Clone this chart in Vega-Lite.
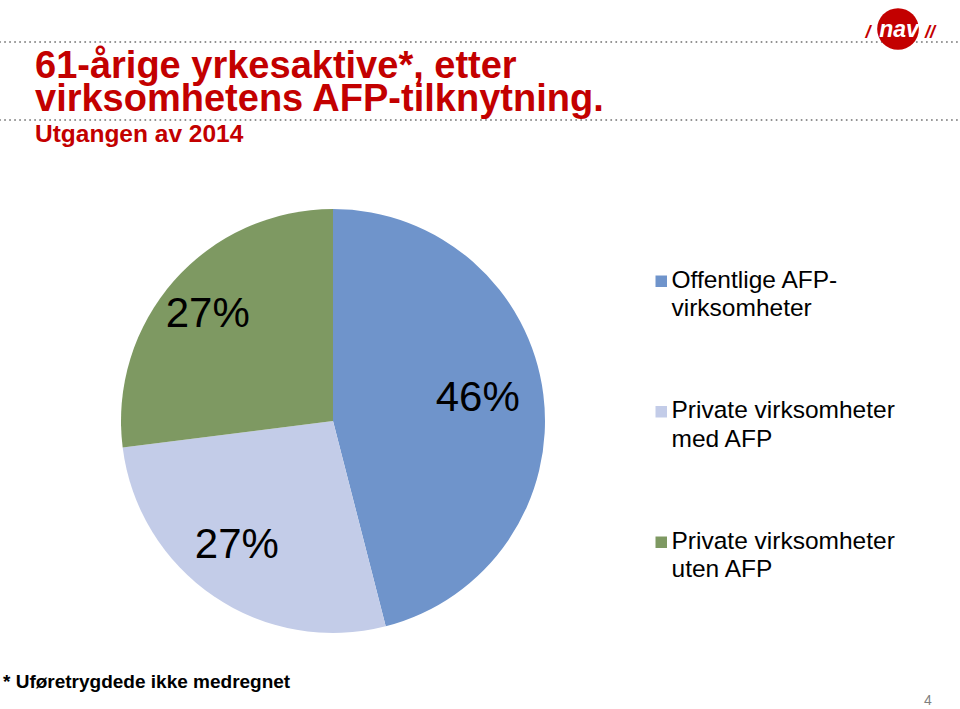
{
  "$schema": "https://vega.github.io/schema/vega-lite/v6.json",
  "width": 960,
  "height": 709,
  "autosize": "none",
  "padding": 0,
  "background": "white",
  "config": {"view": {"stroke": null}, "font": "Liberation Sans"},
  "title": {
    "text": ["61-årige yrkesaktive*, etter", "virksomhetens AFP-tilknytning."],
    "subtitle": "Utgangen av 2014",
    "anchor": "start",
    "frame": "group",
    "orient": "top",
    "offset": -146,
    "dx": 35,
    "font": "Liberation Sans",
    "fontSize": 38,
    "fontWeight": "bold",
    "color": "#C30000",
    "lineHeight": 33,
    "subtitleFont": "Liberation Sans",
    "subtitleFontSize": 24.5,
    "subtitleFontWeight": "bold",
    "subtitleColor": "#C30000",
    "subtitlePadding": 4
  },
  "data": {
    "values": [
      {"kategori": "Offentlige AFP-virksomheter", "andel": 0.46},
      {"kategori": "Private virksomheter med AFP", "andel": 0.27},
      {"kategori": "Private virksomheter uten AFP", "andel": 0.27}
    ]
  },
  "layer": [
    {
      "data": {"values": [{}]},
      "mark": {"type": "rule", "strokeDash": [0.01, 5], "strokeCap": "round", "strokeWidth": 2, "color": "#8a8a8a"},
      "encoding": {
        "x": {"datum": 0, "type": "quantitative", "scale": {"domain": [0, 960], "nice": false, "zero": false}, "axis": null},
        "x2": {"datum": 960},
        "y": {"datum": 42, "type": "quantitative", "scale": {"domain": [0, 709], "reverse": true, "nice": false, "zero": false}, "axis": null}
      }
    },
    {
      "data": {"values": [{}]},
      "mark": {"type": "rule", "strokeDash": [0.01, 5], "strokeCap": "round", "strokeWidth": 2, "color": "#8a8a8a"},
      "encoding": {
        "x": {"datum": 0, "type": "quantitative"},
        "x2": {"datum": 960},
        "y": {"datum": 120, "type": "quantitative"}
      }
    },
    {
      "mark": {"type": "arc", "outerRadius": 212},
      "encoding": {
        "theta": {"field": "andel", "type": "quantitative", "stack": true},
        "order": {"field": "kategori", "sort": "ascending"},
        "color": {
          "field": "kategori",
          "type": "nominal",
          "scale": {
            "domain": ["Offentlige AFP-virksomheter", "Private virksomheter med AFP", "Private virksomheter uten AFP"],
            "range": ["#6F94CB", "#C3CCE8", "#7E9962"]
          },
          "legend": {
            "orient": "none",
            "legendX": 649,
            "legendY": 269,
            "title": null,
            "symbolType": "square",
            "symbolSize": 132,
            "symbolStrokeWidth": 0,
            "labelFont": "Liberation Sans",
            "labelFontSize": 24.5,
            "labelColor": "black",
            "labelLimit": 400,
            "labelOffset": -2,
            "labelBaseline": "alphabetic",
            "rowPadding": 76.5,
            "labelExpr": "datum.label == 'Offentlige AFP-virksomheter' ? ['Offentlige AFP-', 'virksomheter'] : datum.label == 'Private virksomheter med AFP' ? ['Private virksomheter', 'med AFP'] : ['Private virksomheter', 'uten AFP']",
            "encode": {"labels": {"update": {"lineHeight": {"value": 28.5}, "dy": {"value": 6.5}}}}
          }
        },
        "x": {"datum": 333, "type": "quantitative"},
        "y": {"datum": 421, "type": "quantitative"}
      }
    },
    {
      "mark": {"type": "text", "radius": 155, "fontSize": 42, "color": "black", "font": "Liberation Sans", "dx": -9, "dy": -4},
      "encoding": {
        "theta": {"field": "andel", "type": "quantitative", "stack": true},
        "order": {"field": "kategori", "sort": "ascending"},
        "detail": {"field": "kategori", "type": "nominal"},
        "text": {"field": "andel", "type": "quantitative", "format": ".0%"},
        "x": {"datum": 333, "type": "quantitative"},
        "y": {"datum": 421, "type": "quantitative"}
      }
    },
    {
      "data": {"values": [{}]},
      "mark": {"type": "point", "filled": true, "size": 1735, "color": "#C30000", "opacity": 1},
      "encoding": {
        "x": {"datum": 898, "type": "quantitative"},
        "y": {"datum": 29, "type": "quantitative"}
      }
    },
    {
      "data": {"values": [{}]},
      "mark": {"type": "text", "text": "nav", "fontSize": 23, "fontWeight": "bold", "fontStyle": "italic", "color": "white", "baseline": "alphabetic", "align": "center"},
      "encoding": {
        "x": {"datum": 899, "type": "quantitative"},
        "y": {"datum": 37, "type": "quantitative"}
      }
    },
    {
      "data": {"values": [{}]},
      "mark": {"type": "text", "text": "/", "fontSize": 18, "fontWeight": "bold", "fontStyle": "italic", "color": "#C30000", "baseline": "alphabetic", "align": "center"},
      "encoding": {
        "x": {"datum": 868, "type": "quantitative"},
        "y": {"datum": 38, "type": "quantitative"}
      }
    },
    {
      "data": {"values": [{}]},
      "mark": {"type": "text", "text": "//", "fontSize": 18, "fontWeight": "bold", "fontStyle": "italic", "color": "#C30000", "baseline": "alphabetic", "align": "center"},
      "encoding": {
        "x": {"datum": 930, "type": "quantitative"},
        "y": {"datum": 38, "type": "quantitative"}
      }
    },
    {
      "data": {"values": [{}]},
      "mark": {"type": "text", "text": "* Uføretrygdede ikke medregnet", "fontSize": 19, "fontWeight": "bold", "color": "black", "baseline": "alphabetic", "align": "left"},
      "encoding": {
        "x": {"datum": 3, "type": "quantitative"},
        "y": {"datum": 688, "type": "quantitative"}
      }
    },
    {
      "data": {"values": [{}]},
      "mark": {"type": "text", "text": "4", "fontSize": 14, "color": "#7f7f7f", "baseline": "alphabetic", "align": "center"},
      "encoding": {
        "x": {"datum": 928, "type": "quantitative"},
        "y": {"datum": 705, "type": "quantitative"}
      }
    }
  ]
}
